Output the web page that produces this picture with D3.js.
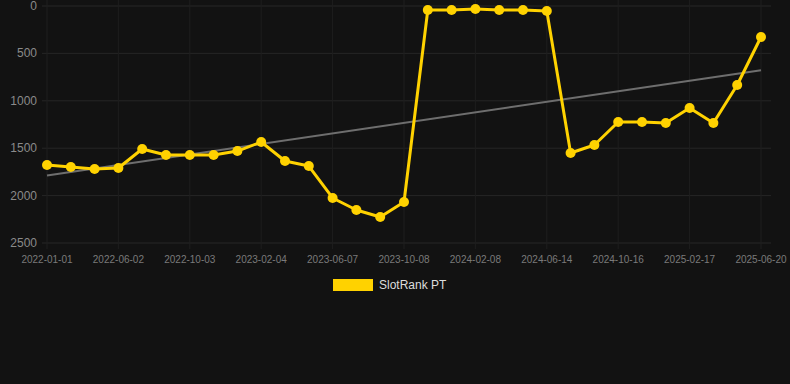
<!DOCTYPE html>
<html>
<head>
<meta charset="utf-8">
<script src="https://cdn.jsdelivr.net/npm/d3@7"></script>
<style>
  html, body { margin: 0; padding: 0; background: #121212; }
  svg { display: block; font-family: "Liberation Sans", Arial, sans-serif; }
</style>
</head>
<body>
<div id="chart"></div>
<script>
// category labels (only every third one is shown on the axis)
const dates = [
  "2022-01-01", "2022-02-20", "2022-04-11", "2022-06-02", "2022-07-23", "2022-08-12",
  "2022-10-03", "2022-11-18", "2022-12-26", "2023-02-04", "2023-03-18", "2023-04-27",
  "2023-06-07", "2023-07-17", "2023-08-28", "2023-10-08", "2023-11-18", "2023-12-29",
  "2024-02-08", "2024-03-20", "2024-05-02", "2024-06-14", "2024-07-25", "2024-09-04",
  "2024-10-16", "2024-11-26", "2025-01-06", "2025-02-17", "2025-03-30", "2025-05-10",
  "2025-06-20"
];
const rank = [
  1677, 1698, 1720, 1709, 1508, 1572, 1572, 1572, 1530, 1435,
  1635, 1688, 2025, 2152, 2226, 2068, 42, 42, 32, 42,
  42, 53, 1551, 1466, 1224, 1224, 1234, 1076, 1234, 833,
  327
];
const yTicks = [0, 500, 1000, 1500, 2000, 2500];
const seriesName = "SlotRank PT";

const W = 790, H = 384;
const margin = {top: 6, left: 47, right: 29};
const plotBottom = 243;

const svg = d3.select("#chart").append("svg")
  .attr("width", W).attr("height", H);

const x = d3.scalePoint()
  .domain(dates)
  .range([margin.left, W - margin.right]);

const y = d3.scaleLinear()
  .domain([0, 2500])
  .range([margin.top, plotBottom]);

// grid
svg.append("g").selectAll("line")
  .data(yTicks).enter().append("line")
  .attr("x1", 42).attr("x2", W - margin.right + 10)
  .attr("y1", d => y(d)).attr("y2", d => y(d))
  .attr("stroke", "#262626").attr("stroke-width", 1);

const shown = dates.filter((d, i) => i % 3 === 0);
svg.append("g").selectAll("line")
  .data(shown).enter().append("line")
  .attr("x1", d => x(d)).attr("x2", d => x(d))
  .attr("y1", 0).attr("y2", plotBottom + 6)
  .attr("stroke", "#1e1e1e").attr("stroke-width", 1);

// y labels
svg.append("g").selectAll("text")
  .data(yTicks).enter().append("text")
  .attr("x", 37).attr("y", d => y(d) + 4)
  .attr("text-anchor", "end")
  .attr("fill", "#8a8a8a").attr("font-size", 12)
  .text(d => d);

// x labels
svg.append("g").selectAll("text")
  .data(shown).enter().append("text")
  .attr("x", d => x(d)).attr("y", plotBottom + 20)
  .attr("text-anchor", "middle")
  .attr("fill", "#7a7a7a").attr("font-size", 10)
  .text(d => d);

// trend line (least squares over the series)
const n = rank.length;
const mx = d3.mean(rank, (d, i) => i);
const my = d3.mean(rank);
const slope = d3.sum(rank, (d, i) => (i - mx) * (d - my)) / d3.sum(rank, (d, i) => (i - mx) * (i - mx));
const trend = [0, n - 1].map(i => [i, my + slope * (i - mx)]);
svg.append("path")
  .datum(trend)
  .attr("fill", "none")
  .attr("stroke", "#6e6e6e").attr("stroke-width", 2)
  .attr("d", d3.line().x(d => x(dates[d[0]])).y(d => y(d[1])));

// series
const gold = "#ffd200";
svg.append("path")
  .datum(rank)
  .attr("fill", "none")
  .attr("stroke", gold).attr("stroke-width", 3)
  .attr("stroke-linejoin", "round")
  .attr("d", d3.line().x((d, i) => x(dates[i])).y(d => y(d)));

svg.append("g").selectAll("circle")
  .data(rank).enter().append("circle")
  .attr("cx", (d, i) => x(dates[i])).attr("cy", d => y(d))
  .attr("r", 5).attr("fill", gold);

// legend
const lg = svg.append("g").attr("transform", "translate(333,279)");
lg.append("rect").attr("width", 40).attr("height", 12).attr("fill", gold);
lg.append("text").attr("x", 46).attr("y", 10)
  .attr("fill", "#dddddd").attr("font-size", 12)
  .text(seriesName);
</script>
</body>
</html>
